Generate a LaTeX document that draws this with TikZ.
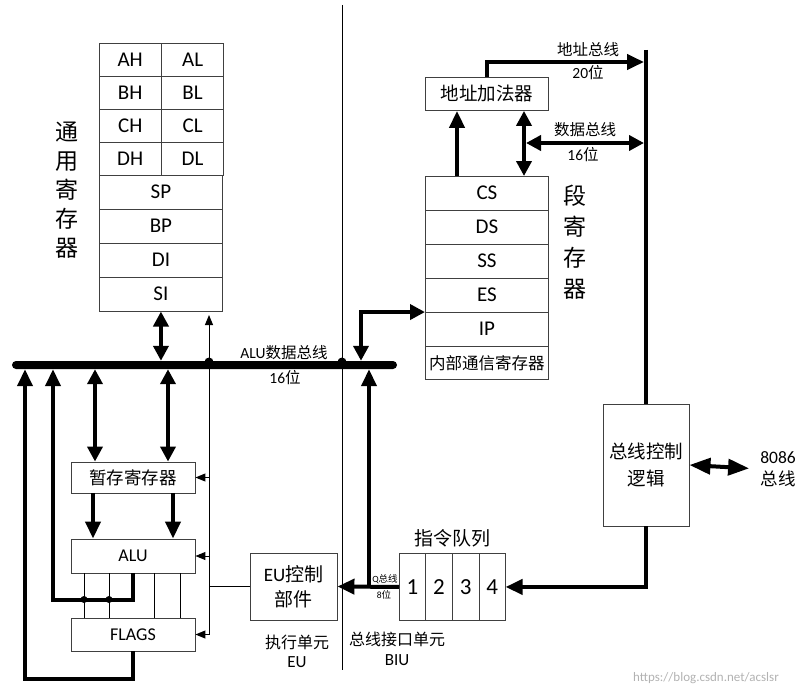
\documentclass[tikz,border=0pt]{standalone}
\usepackage{fontspec}
\setmainfont{Carlito}
\newfontfamily\cjk{Noto Sans CJK SC}
\usetikzlibrary{shapes,arrows.meta}
\newcommand\fs[1]{\fontsize{#1}{#1}\selectfont}
\newcommand\rowstrut{\rule[-10pt]{0pt}{33pt}}
\newcommand\qstrut{\rule[-26pt]{0pt}{67pt}}

\begin{document}
\begin{tikzpicture}[x=1pt,y=-1pt]
\tikzstyle{box}=[draw=black!75,line width=0.9pt,inner sep=0pt,font=\fs{18}]
\tikzstyle{vsplit}=[box,rectangle split,rectangle split parts=#1,text width=123pt,align=center,anchor=north west,font=\fs{21}]
\tikzstyle{hsplit}=[box,rectangle split,rectangle split horizontal,rectangle split parts=#1,align=center,anchor=north west,font=\fs{21}]
\tikzstyle{lbl}=[inner sep=0pt,align=center]
\tikzstyle{thk}=[line width=4pt,-{Triangle[length=17pt,width=15pt]}]
\tikzstyle{dbl}=[line width=4pt,{Triangle[length=15pt,width=15pt]}-{Triangle[length=15pt,width=15pt]}]
\tikzstyle{bigdbl}=[line width=4pt,{Triangle[length=21pt,width=16pt]}-{Triangle[length=21pt,width=16pt]}]
\tikzstyle{thn}=[line width=1pt,-{Triangle[length=10pt,width=8pt]}]
\useasboundingbox (0,0) rectangle (810,693);

% registers
\node[hsplit=2,text width=61.5pt] (ax) at (99,43) {\rowstrut AH \nodepart{two}\rowstrut AL};
\node[hsplit=2,text width=61.5pt] (bx) at (99,76) {\rowstrut BH \nodepart{two}\rowstrut BL};
\node[hsplit=2,text width=61.5pt] (cx) at (99,109) {\rowstrut CH \nodepart{two}\rowstrut CL};
\node[hsplit=2,text width=61.5pt] (dx) at (99,142) {\rowstrut DH \nodepart{two}\rowstrut DL};
\node[vsplit=4] (gpr) at (99,175) {\rowstrut SP \nodepart{two}\rowstrut BP \nodepart{three}\rowstrut DI \nodepart{four}\rowstrut SI};
\node[vsplit=6] (seg) at (425,176) {\rowstrut CS \nodepart{two}\rowstrut DS \nodepart{three}\rowstrut SS \nodepart{four}\rowstrut ES \nodepart{five}\rowstrut IP \nodepart{six}\rowstrut{\fs{16.5}\cjk 内部通信寄存器}};
\node[box,minimum width=123pt,minimum height=33pt,anchor=north west,font=\fs{18.5}\cjk] (adder) at (425,77) {地址加法器};

% EU boxes
\node[box,minimum width=124pt,minimum height=31pt,font=\fs{17.5}\cjk] (tmp) at (133,477.5) {暂存寄存器};
\node[box,minimum width=124pt,minimum height=34pt] (alu) at (133,556) {ALU};
\node[box,minimum width=124pt,minimum height=33pt] (flags) at (133,634.5) {FLAGS};
\node[box,minimum width=87pt,minimum height=67pt,font=\fontsize{19}{25}\selectfont,align=center] (eu) at (293.5,586.5) {EU{\cjk 控制}\\{\cjk 部件}};

% BIU boxes
\node[box,minimum width=86pt,minimum height=122pt,font=\fontsize{18.5}{27}\selectfont\cjk,align=center] (ctrl) at (646,465) {总线控制\\逻辑};
\node[hsplit=4,text width=25.75pt,font=\fs{23}] (queue) at (399,553) {\qstrut 1\nodepart{two}\qstrut 2\nodepart{three}\qstrut 3\nodepart{four}\qstrut 4};

% thin lines behind the bus
\coordinate (divtop) at (342,5);
\coordinate (divbot) at (342,670);
\coordinate (ctltop) at (209,315);
\coordinate (ctlbot) at (209,634.5);
\draw[line width=1pt] (divtop) -- (divbot);
\draw[thn] (ctlbot) -- (ctltop);
\draw[thn] (tmp.east -| ctltop) -- (tmp.east);
\draw[thn] (alu.east -| ctltop) -- (alu.east);
\draw[thn] (flags.east -| ctltop) -- (flags.east);
\draw[line width=1pt] (eu.west) -- (eu.west -| ctltop);
\foreach \x in {84,109,154,180}
  \draw[line width=1pt] (alu.south -| \x,0) -- (flags.north -| \x,0);

% ALU data bus
\node[fill=black,minimum width=385pt,minimum height=8pt,rounded corners=4pt,inner sep=0pt] (bus) at (204.5,365) {};
\fill (209,362) circle (4.5pt);
\fill (342,362) circle (4.5pt);

\draw[dbl] (gpr.south) -- (bus.north -| gpr.south);
\draw[dbl] (bus.south -| 95,0) -- (tmp.north -| 95,0);
\draw[dbl] (bus.south -| 168,0) -- (tmp.north -| 168,0);
\draw[thk] (tmp.south -| 93,0) -- (alu.north -| 93,0);
\draw[thk] (tmp.south -| 173,0) -- (alu.north -| 173,0);
\draw[thk] (alu.south) -- ++(0,27) -| (bus.south -| 53,0);
\draw[thk] (flags.south) -- ++(0,28) -| (bus.south -| 25,0);
\fill (84,599.5) circle (3.5pt);
\fill (109,599.5) circle (3.5pt);
\draw[dbl] (bus.north -| 361,0) |- (seg.four split west);
\draw[thk] (queue.west) -- (eu.east);
\draw[thk] (queue.west -| 369,0) -- (bus.south -| 369,0);

% BIU buses
\coordinate (bustop) at (646,50);
\coordinate (dbus) at (526,143);
\draw[line width=4pt] (bustop) -- (ctrl.north);
\draw[thk] (ctrl.south) |- (queue.east);
\draw[thk,shorten >=2pt] (adder.north) |- (bustop |- 0,62);
\draw[thk] (seg.north -| 457,0) -- (adder.south -| 457,0);
\draw[dbl] (seg.north -| 524,0) -- (adder.south -| 524,0);
\draw[dbl,shorten >=2pt] (dbus) -- (dbus -| bustop);
\node[lbl,font=\fontsize{17.5}{22}\selectfont] (sysbus) at (778,469) {8086\\{\cjk 总线}};
\draw[bigdbl,shorten >=11pt] (ctrl.east) -- (sysbus.west);

% labels
\node[lbl,font=\fontsize{23}{29}\selectfont\cjk] (gprlbl) at (67,190) {通\\用\\寄\\存\\器};
\node[lbl,font=\fontsize{23}{31}\selectfont\cjk] (seglbl) at (575,242) {段\\寄\\存\\器};
\node[lbl,font=\fs{15.5}] (alubus) at (284,353) {ALU{\cjk 数据总线}};
\node[lbl,font=\fs{15.5}] (alubits) at (285,378) {16{\cjk 位}};
\node[lbl,font=\fs{15.5}] (abus) at (588,50) {\cjk 地址总线};
\node[lbl,font=\fs{15.5}] (abits) at (588,73) {20{\cjk 位}};
\node[lbl,font=\fs{15.5}] (dbuslbl) at (585,130) {\cjk 数据总线};
\node[lbl,font=\fs{15.5}] (dbits) at (583,155) {16{\cjk 位}};
\node[lbl,font=\fs{19}] (qlbl) at (452,538) {\cjk 指令队列};
\node[lbl,font=\fs{9.5}] (qbus) at (385,579) {Q{\cjk 总线}};
\node[lbl,font=\fs{9.5}] (qbits) at (384,595) {8{\cjk 位}};
\node[lbl,font=\fs{16}] (eulbl) at (297,642) {\cjk 执行单元};
\node[lbl,font=\fs{17}] (eulbl2) at (297,662) {EU};
\node[lbl,font=\fs{16}] (biulbl) at (397,639) {\cjk 总线接口单元};
\node[lbl,font=\fs{17}] (biulbl2) at (397,660) {BIU};
\node[lbl,font=\fs{13},text=black!30] (mark) at (706,678) {https://blog.csdn.net/acslsr};
\end{tikzpicture}
\end{document}
